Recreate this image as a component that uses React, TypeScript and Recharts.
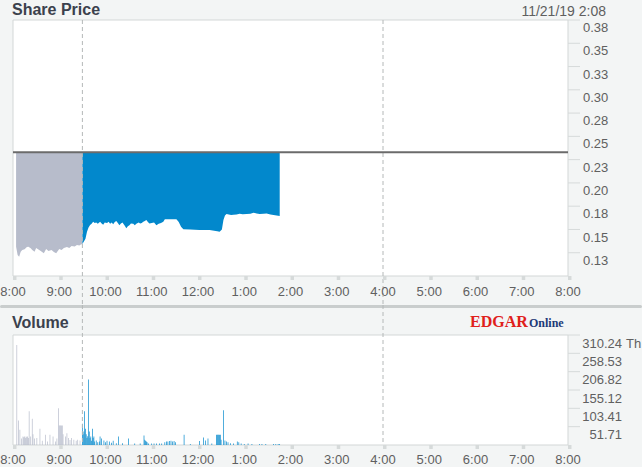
import React from 'react';
import {
  ComposedChart,
  Area,
  Bar,
  Cell,
  XAxis,
  YAxis,
  ReferenceLine,
  ReferenceArea,
  CartesianGrid,
} from 'recharts';

const FONT = '"Liberation Sans", Arial, Helvetica, sans-serif';

// ---- time axis: minutes after 8:00 AM ----
const hourTicks = [0, 60, 120, 180, 240, 300, 360, 420, 480, 540, 600, 660, 720];
const hourLabels = ['8:00', '9:00', '10:00', '11:00', '12:00', '1:00', '2:00', '3:00', '4:00', '5:00', '6:00', '7:00', '8:00'];
const sessionBreaks = [90, 480]; // 9:30 open, 4:00 close
const openMinute = 90;

// ---- share price ----
const priorClose = 0.233;
const priceMin = 0.1;
const priceMax = 0.375;
const priceTicks = [0.125, 0.15, 0.175, 0.2, 0.225, 0.25, 0.275, 0.3, 0.325, 0.35, 0.375];
const priceTickLabels = ['0.13', '0.15', '0.18', '0.20', '0.23', '0.25', '0.28', '0.30', '0.33', '0.35', '0.38'];

const preTimes = [4, 6, 8, 10, 12, 15, 18, 20, 23, 25, 28, 30, 33, 36, 40, 43, 46, 50, 53, 56, 60, 63, 66, 70, 73, 76, 80, 83, 86, 88, 90];
const prePrices = [0.1315, 0.1226, 0.1208, 0.1261, 0.128, 0.1287, 0.1312, 0.1315, 0.1298, 0.128, 0.1261, 0.1301, 0.1285, 0.1269, 0.1244, 0.129, 0.1269, 0.128, 0.1258, 0.1244, 0.129, 0.128, 0.1301, 0.1312, 0.1301, 0.1322, 0.1317, 0.1333, 0.1328, 0.1339, 0.1344];

const regTimes = [90, 92, 94, 96, 98, 100, 102, 104, 106, 108, 110, 113, 115, 117, 119, 122, 124, 126, 128, 130, 132, 134, 136, 138, 140, 142, 145, 147, 149, 151, 153, 156, 158, 160, 163, 165, 167, 169, 171, 173, 175, 177, 180, 183, 186, 189, 192, 195, 197, 205, 212, 215, 218, 221, 230, 242, 255, 265, 268, 271, 273, 275, 277, 280, 283, 286, 290, 294, 298, 303, 308, 312, 316, 320, 325, 329, 334, 338, 342, 346];
const regPrices = [0.1344, 0.137, 0.14, 0.1476, 0.152, 0.1548, 0.156, 0.1584, 0.157, 0.1575, 0.156, 0.1584, 0.1565, 0.155, 0.1575, 0.157, 0.1584, 0.156, 0.1575, 0.1556, 0.158, 0.159, 0.157, 0.1545, 0.1565, 0.1575, 0.154, 0.1513, 0.1535, 0.1545, 0.1565, 0.156, 0.1545, 0.156, 0.1575, 0.1565, 0.157, 0.1584, 0.159, 0.1602, 0.158, 0.1565, 0.157, 0.1575, 0.1545, 0.156, 0.157, 0.1584, 0.1609, 0.1609, 0.1609, 0.158, 0.153, 0.1502, 0.15, 0.1494, 0.1494, 0.148, 0.1476, 0.15, 0.1602, 0.165, 0.1666, 0.166, 0.1655, 0.1658, 0.166, 0.167, 0.1662, 0.1666, 0.167, 0.168, 0.1672, 0.1666, 0.167, 0.1672, 0.166, 0.1655, 0.165, 0.1645];

// ---- volume (thousands) ----
const volMax = 310.24;
const volTicks = [51.71, 103.41, 155.12, 206.82, 258.53, 310.24];
const volTickLabels = ['51.71', '103.41', '155.12', '206.82', '258.53', '310.24'];
const volUnit = 'Th';

const volTimes = [5, 7, 9, 11, 13, 14, 15, 16, 17, 18, 19, 20, 21, 23, 25, 26, 28, 31, 35, 38, 42, 45, 48, 52, 55, 57, 59, 60, 61, 62, 63, 64, 65, 68, 70, 72, 74, 76, 79, 82, 84, 87,
  90, 91, 92, 93, 94, 95, 96, 97, 98, 99, 100, 101, 102, 103, 104, 105, 106, 108, 110, 112, 113, 115, 118, 120, 122, 125, 128, 130, 134, 137, 142, 150, 158, 165, 170, 171, 172, 173, 174, 176, 180, 183, 186, 190, 193, 197, 199, 201, 203, 205, 207, 209, 211, 222, 230, 242, 247, 250, 253, 258, 264, 265, 266, 267, 268, 269, 270, 273, 275, 277, 279, 282, 286, 291, 293, 296, 300, 305, 310, 320, 323, 328, 338, 341, 344, 346];
const volValues = [282, 69, 43, 18, 24, 22, 24, 20, 24, 22, 24, 20, 95, 24, 74, 30, 18, 20, 46, 12, 29, 10, 29, 24, 10, 18, 104, 55, 55, 55, 55, 55, 30, 24, 33, 20, 14, 20, 15, 12, 15, 13,
  60, 30, 38, 95, 46, 30, 20, 25, 185, 38, 20, 24, 12, 46, 20, 24, 10, 13, 8, 10, 24, 18, 13, 8, 12, 10, 6, 12, 5, 24, 5, 18, 4, 4, 27, 15, 12, 10, 8, 4, 4, 4, 4, 4, 4, 8, 10, 10, 11, 12, 10, 11, 8, 29, 3, 11, 21, 13, 18, 4, 29, 29, 29, 29, 29, 29, 15, 98, 13, 10, 8, 5, 4, 10, 8, 4, 3, 4, 3, 3, 3, 3, 3, 3, 3, 3];

const COLORS = {
  bg: '#f3f5f5',
  plotBorder: '#d3d7d7',
  tick: '#d6dada',
  text: '#606060',
  title: '#3b414d',
  pre: '#b7bccb',
  reg: '#0288cc',
  close: '#6b6b6b',
  dash: '#b4b8b8',
};

const priceData = (() => {
  const map = new Map<number, any>();
  preTimes.forEach((t, i) => map.set(t, { t, pre: [prePrices[i], priorClose], reg: null }));
  regTimes.forEach((t, i) => {
    const e = map.get(t) || { t, pre: null };
    e.reg = [regPrices[i], priorClose];
    map.set(t, e);
  });
  return Array.from(map.values()).sort((a, b) => a.t - b.t);
})();

const volData = volTimes.map((t, i) => ({ t, v: volValues[i] }));

const hourFmt = (v: number) => hourLabels[hourTicks.indexOf(v)] ?? '';

const findIdx = (arr: number[], v: number) => arr.findIndex((a) => Math.abs(a - v) < 1e-6);

const PriceTick = (props: any) => {
  const { x, y, payload } = props;
  const i = findIdx(priceTicks, payload.value);
  return (
    <text x={x} y={y + 7.5} dy="0.355em" textAnchor="start" fontSize={13} fill={COLORS.text} fontFamily={FONT}>
      {priceTickLabels[i]}
    </text>
  );
};

const VolTick = (props: any) => {
  const { x, y, payload } = props;
  const i = findIdx(volTicks, payload.value);
  const isTop = i === volTicks.length - 1;
  return (
    <g>
      <text x={x} y={y + 8} dy="0.355em" textAnchor="end" fontSize={13} fill={COLORS.text} fontFamily={FONT}>
        {volTickLabels[i]}
      </text>
      {isTop && (
        <text x={x + 4} y={y + 8} dy="0.355em" textAnchor="start" fontSize={13} fill={COLORS.text} fontFamily={FONT}>
          {volUnit}
        </text>
      )}
    </g>
  );
};

const dashShape = (extUp: number, extDown: number) => (p: any) => {
  const top = Math.min(p.y1, p.y2);
  const bottom = Math.max(p.y1, p.y2);
  return (
    <line x1={p.x1} x2={p.x2} y1={top - extUp} y2={bottom + extDown} stroke={COLORS.dash} strokeWidth={1} strokeDasharray="4 3" />
  );
};

const xTickLine = { stroke: COLORS.tick, strokeWidth: 3.5, transform: 'translate(1.75,0)' };

export default function App() {
  return (
    <div
      style={{
        position: 'absolute',
        left: 0,
        top: 0,
        width: 642,
        height: 467,
        background: COLORS.bg,
        fontFamily: FONT,
        overflow: 'hidden',
      }}
    >
      {/* Share price panel */}
      <div style={{ position: 'absolute', left: 0, top: 0 }}>
        <ComposedChart width={642} height={305} data={priceData} margin={{ top: 20, right: 0, bottom: 0, left: 13 }}>
          <CartesianGrid horizontal={false} vertical={false} fill="#ffffff" fillOpacity={1} />
          <XAxis
            dataKey="t"
            type="number"
            domain={[0, 720]}
            ticks={hourTicks}
            tickFormatter={hourFmt}
            height={29}
            axisLine={false}
            tickLine={xTickLine}
            tickSize={4}
            tickMargin={7}
            interval={0}
            tick={{ fontSize: 13, fill: COLORS.text, fontFamily: FONT }}
          />
          <YAxis
            orientation="right"
            type="number"
            domain={[priceMin, priceMax]}
            ticks={priceTicks}
            allowDataOverflow
            width={74}
            axisLine={false}
            tickLine={{ stroke: COLORS.tick }}
            tickSize={12}
            tickMargin={3}
            interval={0}
            tick={<PriceTick />}
          />
          {sessionBreaks.map((m) => (
            <ReferenceLine key={m} x={m} shape={dashShape(0, 29)} />
          ))}
          <Area
            dataKey="pre"
            type="linear"
            stroke="none"
            fill={COLORS.pre}
            fillOpacity={1}
            isAnimationActive={false}
            dot={false}
            activeDot={false}
          />
          <Area
            dataKey="reg"
            type="linear"
            stroke="none"
            fill={COLORS.reg}
            fillOpacity={1}
            isAnimationActive={false}
            dot={false}
            activeDot={false}
          />
          <ReferenceLine y={priorClose} stroke={COLORS.close} strokeWidth={2} />
          <ReferenceArea x1={0} x2={720} y1={priceMin} y2={priceMax} fill="none" stroke={COLORS.plotBorder} strokeWidth={1} />
        </ComposedChart>
      </div>

      {/* separator */}
      <div
        style={{
          position: 'absolute',
          left: 0,
          top: 305,
          width: 642,
          height: 3,
          borderRadius: 2,
          background: '#c9cdcd',
        }}
      />

      {/* Volume panel */}
      <div style={{ position: 'absolute', left: 0, top: 305 }}>
        <ComposedChart width={642} height={162} data={volData} margin={{ top: 30, right: 0, bottom: 0, left: 13 }}>
          <CartesianGrid horizontal={false} vertical={false} fill="#ffffff" fillOpacity={1} />
          <XAxis
            dataKey="t"
            type="number"
            domain={[0, 720]}
            ticks={hourTicks}
            tickFormatter={hourFmt}
            height={22}
            axisLine={false}
            tickLine={xTickLine}
            tickSize={4}
            tickMargin={6}
            interval={0}
            tick={{ fontSize: 13, fill: COLORS.text, fontFamily: FONT }}
          />
          <YAxis
            orientation="right"
            type="number"
            domain={[0, volMax]}
            ticks={volTicks}
            allowDataOverflow
            width={74}
            axisLine={false}
            tickLine={{ stroke: COLORS.tick }}
            tickSize={12}
            tickMargin={42}
            interval={0}
            tick={<VolTick />}
          />
          {sessionBreaks.map((m) => (
            <ReferenceLine key={m} x={m} shape={dashShape(30, 0)} />
          ))}
          <Bar dataKey="v" barSize={1.2} isAnimationActive={false}>
            {volData.map((d, i) => (
              <Cell key={i} fill={d.t < openMinute ? COLORS.pre : COLORS.reg} />
            ))}
          </Bar>
          <ReferenceArea x1={0} x2={720} y1={0} y2={volMax} fill="none" stroke={COLORS.plotBorder} strokeWidth={1} />
        </ComposedChart>
      </div>

      {/* titles */}
      <svg width={642} height={467} style={{ position: 'absolute', left: 0, top: 0, pointerEvents: 'none' }}>
        <text x={12} y={15} fontSize={16} fontWeight="bold" fill={COLORS.title} fontFamily={FONT}>
          Share Price
        </text>
        <text x={606} y={16} fontSize={14} textAnchor="end" fill="#5f5f5f" fontFamily={FONT}>
          11/21/19 2:08
        </text>
        <text x={12} y={328} fontSize={16} fontWeight="bold" fill={COLORS.title} fontFamily={FONT}>
          Volume
        </text>
        <text x={470} y={327} fontSize={16} fontWeight="bold" fill="#e0201b" fontFamily='"Liberation Serif", "Times New Roman", serif'>
          EDGAR
        </text>
        <text x={529} y={327} fontSize={12} fontWeight="bold" fill="#1d3a78" fontFamily='"Liberation Serif", "Times New Roman", serif'>
          Online
        </text>
      </svg>
    </div>
  );
}
